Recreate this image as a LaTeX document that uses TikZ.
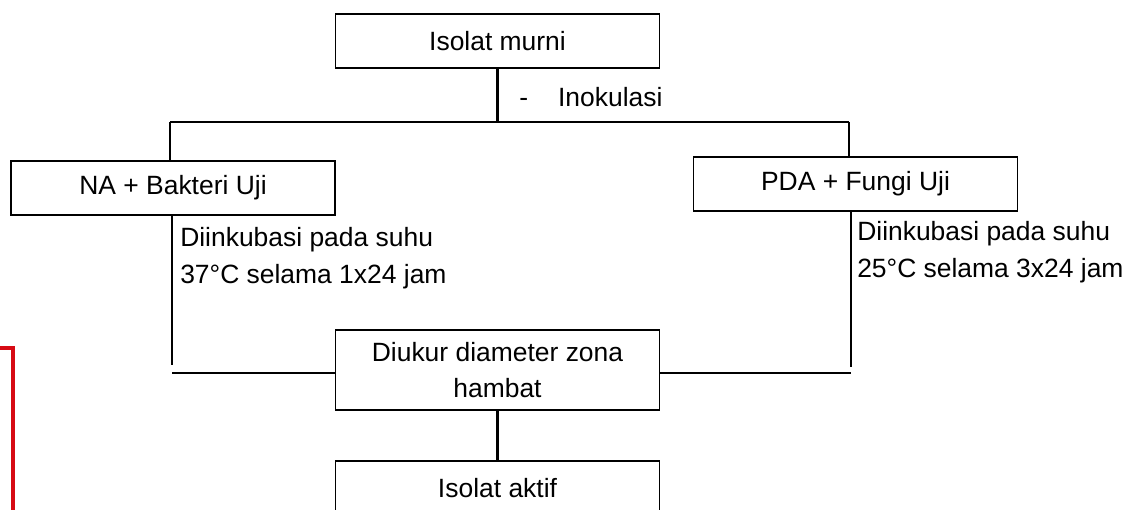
\documentclass[tikz,border=0pt]{standalone}
\usepackage{fontspec}
\setmainfont{Liberation Sans}
\definecolor{framered}{RGB}{215,10,20}
\tikzset{
    box/.style={draw, line width=1.3pt, minimum width=8.1cm, minimum height=1.35cm,
        inner sep=0pt, align=center, font=\fontsize{18.8}{26}\selectfont},
    conn/.style={line width=1.6pt},
    note/.style={inner sep=0pt, align=left, font=\fontsize{18.8}{26.3}\selectfont}
}
\begin{document}
\begin{tikzpicture}[x=0.025cm, y=-0.025cm]
        \useasboundingbox (0,0) rectangle (1143,510);
        \clip (0,0) rectangle (1143,510);

        \node[box] (isolat) at (497.5,41) {Isolat murni};
        \node[box] (na) at (173,188) {NA + Bakteri Uji};
        \node[box] (pda) at (855.5,184) {PDA + Fungi Uji};
        \node[box, minimum height=2cm] (ukur) at (497.5,370) {Diukur diameter zona\\hambat};
        \node[box] (aktif) at (497.5,488) {Isolat aktif};

        \coordinate (busL) at (170,122);
        \coordinate (busR) at (849,122);
        \coordinate (naEnd) at (172,365);
        \coordinate (ukurL) at (172,373);
        \coordinate (pdaEnd) at (851,367);
        \coordinate (ukurR) at (851,373);

        \draw[conn] (isolat.south) -- (isolat.south |- busL);
        \draw[conn] (busL) -- (busR);
        \draw[conn] (busL) -- (busL |- na.north);
        \draw[conn] (busR) -- (busR |- pda.north);
        \draw[conn] (naEnd |- na.south) -- (naEnd);
        \draw[conn] (ukurL) -- (ukurL -| ukur.west);
        \draw[conn] (pdaEnd |- pda.south) -- (pdaEnd);
        \draw[conn] (ukur.east |- ukurR) -- (ukurR);
        \draw[conn] (ukur.south) -- (aktif.north);

        \node[note, anchor=west] (inok) at (519,97) {-\hspace{0.75cm}Inokulasi};
        \node[note, anchor=west] (inkNA) at (180,258) {Diinkubasi pada suhu\\37°C selama 1x24 jam};
        \node[note, anchor=west] (inkPDA) at (857,252) {Diinkubasi pada suhu\\25°C selama 3x24 jam};

        % sisa bingkai merah di kiri
        \draw[framered, line width=2.2pt] (0,348) -- (13,348) -- (13,515);
    \end{tikzpicture}
\end{document}
